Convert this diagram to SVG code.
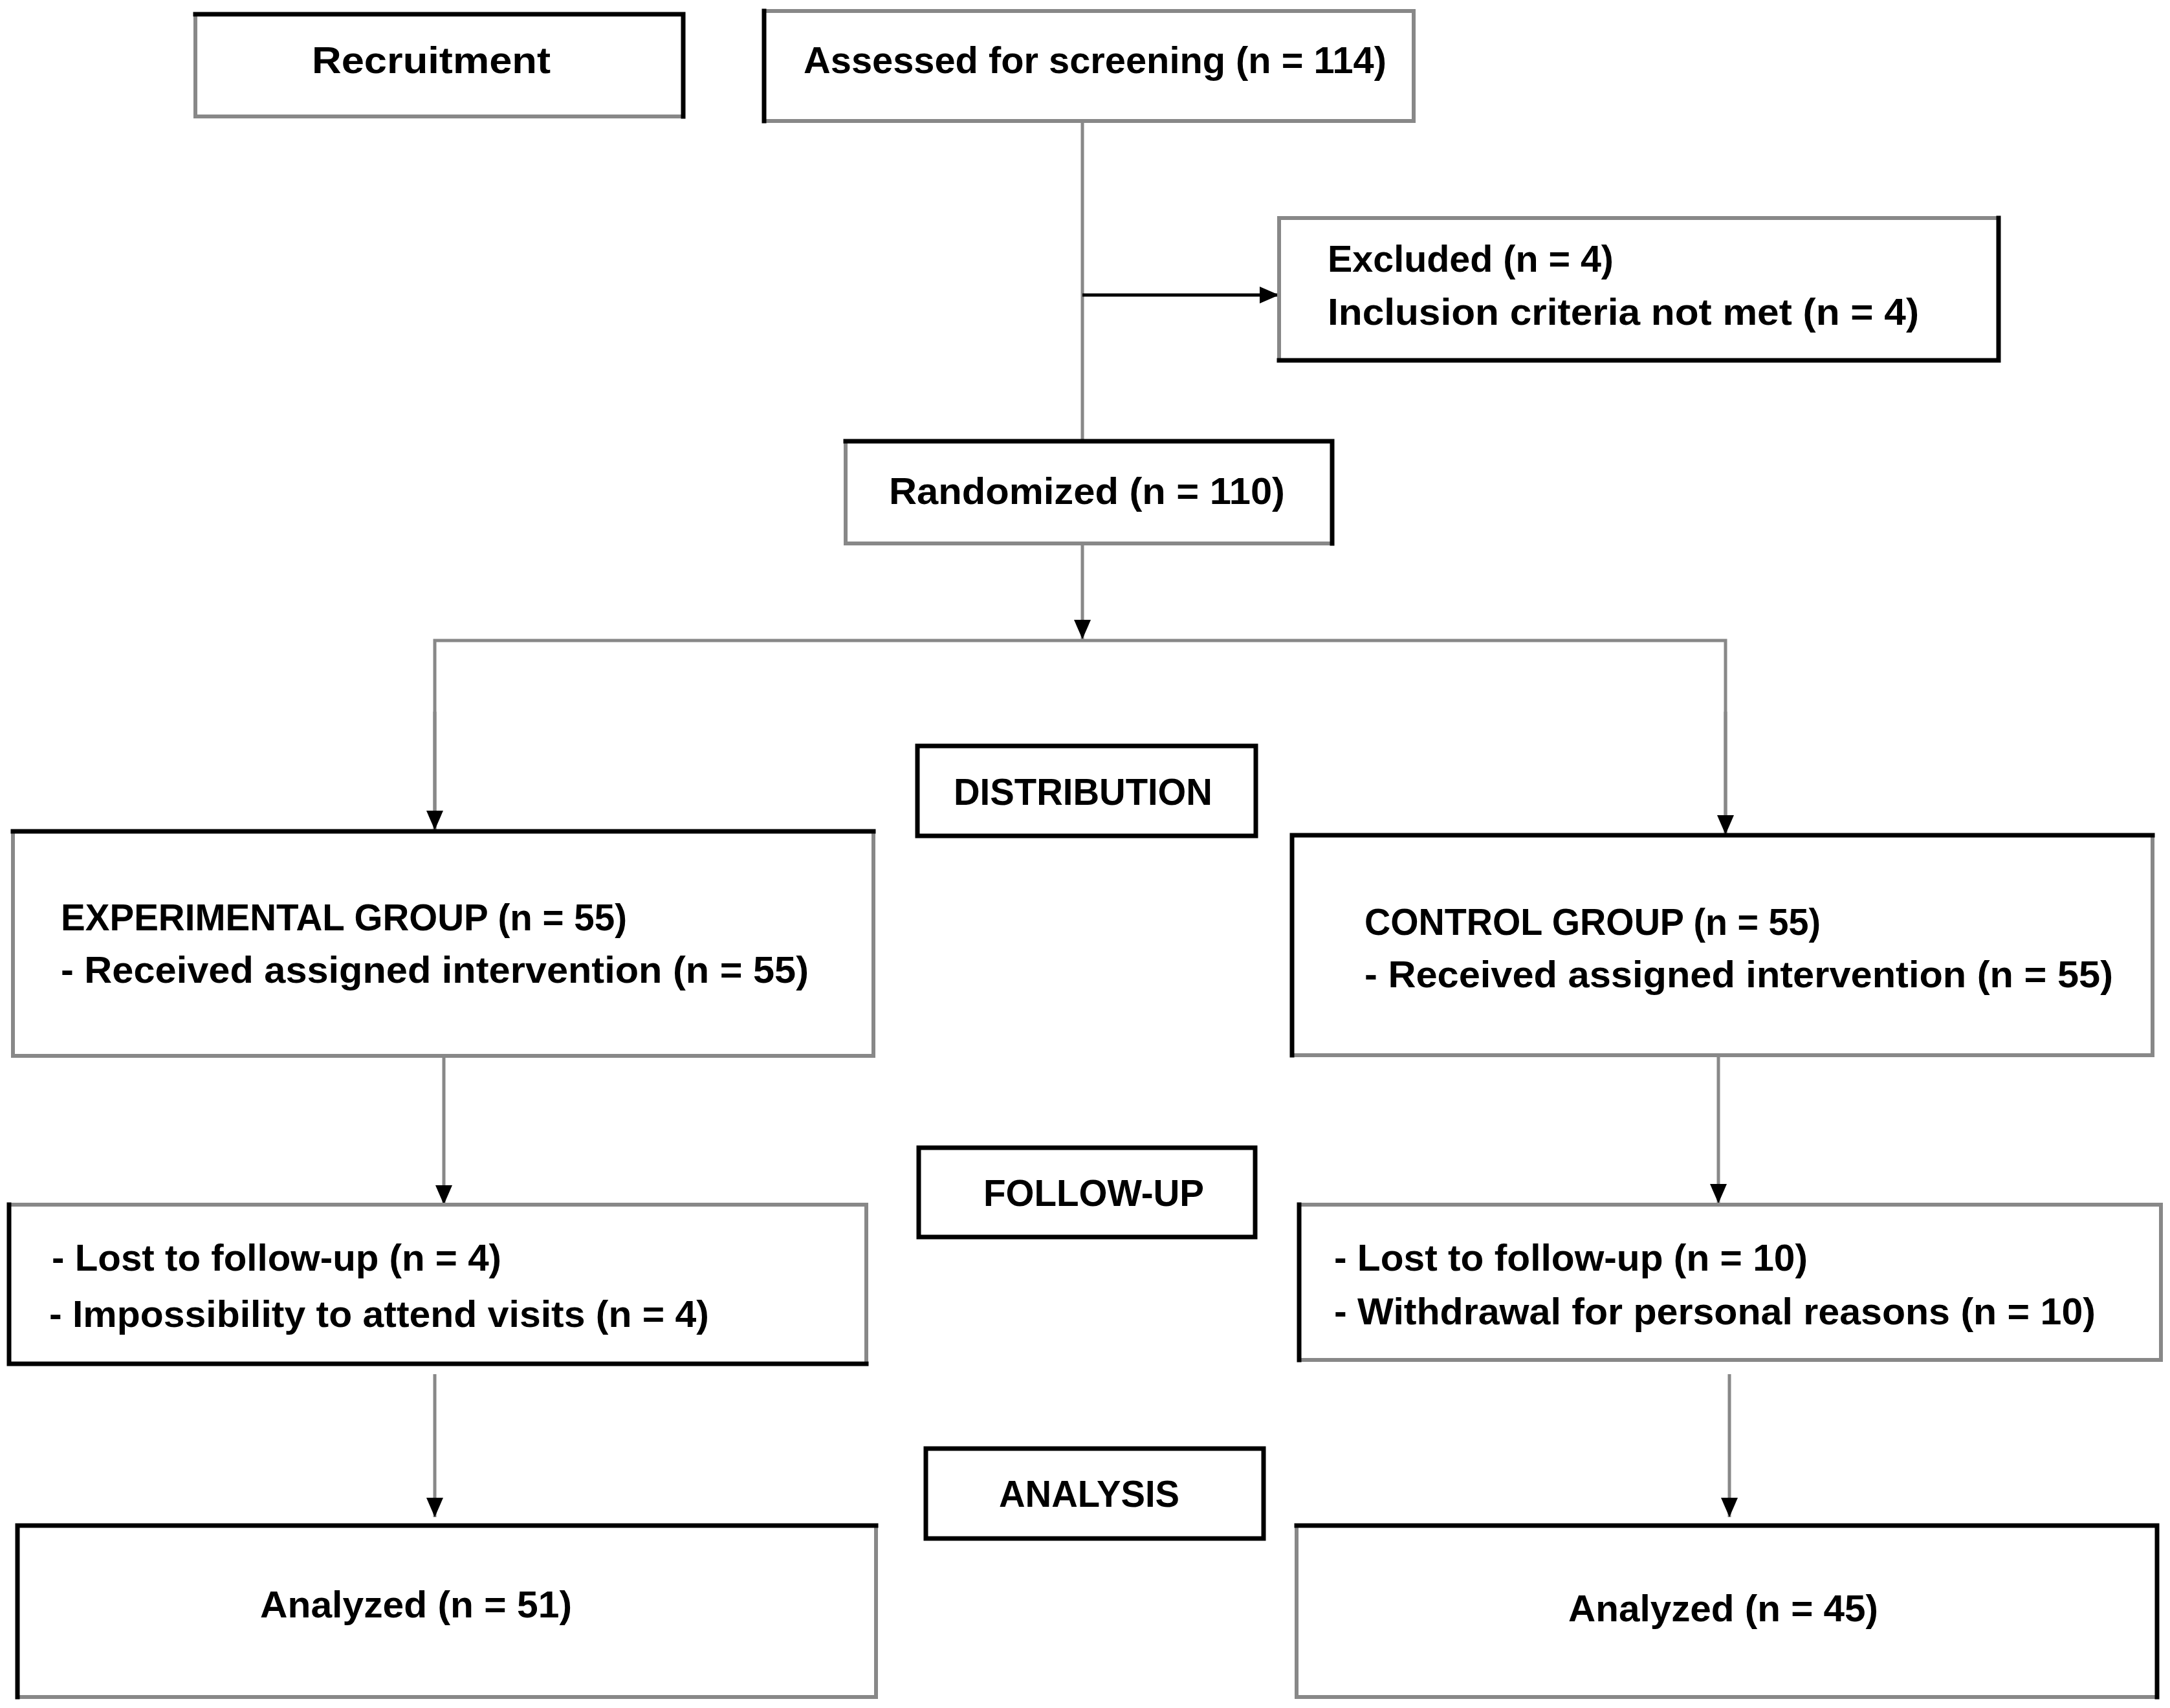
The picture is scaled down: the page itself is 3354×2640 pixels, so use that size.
<svg xmlns="http://www.w3.org/2000/svg" width="3354" height="2640" viewBox="0 0 3354 2640">
<style>
.bx{fill:#fff;stroke:#888;stroke-width:6}
.bk{fill:none;stroke:#000;stroke-width:7;stroke-linecap:square}
.t{font-family:"Liberation Sans",Arial,sans-serif;font-weight:bold;font-size:58px;fill:#000}
.c{fill:none;stroke:#888;stroke-width:5}
.cb{fill:none;stroke:#000;stroke-width:5}
</style>
<defs>
<marker id="ah" markerUnits="userSpaceOnUse" markerWidth="30" markerHeight="26" refX="30" refY="13" orient="auto">
<path d="M0,0 L30,13 L0,26 z" fill="#000"/>
</marker>
</defs>
<rect width="3354" height="2640" fill="#fff"/>
<g id="connectors">
<line class="c" x1="1673" y1="187" x2="1673" y2="682"/>
<line class="cb" x1="1673" y1="456" x2="1977" y2="456" marker-end="url(#ah)"/>
<line class="c" x1="1673" y1="840" x2="1673" y2="988" marker-end="url(#ah)"/>
<polyline class="c" points="672,1283 672,990 2667,990 2667,1290"/>
<line class="c" x1="672" y1="1100" x2="672" y2="1283" marker-end="url(#ah)"/>
<line class="c" x1="2667" y1="1100" x2="2667" y2="1290" marker-end="url(#ah)"/>
<line class="c" x1="686" y1="1632" x2="686" y2="1862" marker-end="url(#ah)"/>
<line class="c" x1="2656" y1="1631" x2="2656" y2="1860" marker-end="url(#ah)"/>
<line class="c" x1="672" y1="2124" x2="672" y2="2345" marker-end="url(#ah)"/>
<line class="c" x1="2673" y1="2124" x2="2673" y2="2345" marker-end="url(#ah)"/>
</g>
<g id="recruitment">
<rect class="bx" x="302" y="22" width="754" height="158"/>
<path class="bk" d="M302,22 H1056 V180"/>
<text class="t" x="482" y="113" textLength="369" lengthAdjust="spacingAndGlyphs">Recruitment</text>
</g>
<g id="assessed">
<rect class="bx" x="1181" y="17" width="1004" height="170"/>
<path class="bk" d="M1181,17 V187"/>
<text class="t" x="1242" y="113" textLength="901" lengthAdjust="spacingAndGlyphs">Assessed for screening (n = 114)</text>
</g>
<g id="excluded">
<rect class="bx" x="1977" y="337" width="1112" height="220"/>
<path class="bk" d="M3089,337 V557 H1977"/>
<text class="t" x="2052" y="420" textLength="442" lengthAdjust="spacingAndGlyphs">Excluded (n = 4)</text>
<text class="t" x="2052" y="502" textLength="914" lengthAdjust="spacingAndGlyphs">Inclusion criteria not met (n = 4)</text>
</g>
<g id="randomized">
<rect class="bx" x="1307" y="682" width="752" height="158"/>
<path class="bk" d="M1307,682 H2059 V840"/>
<text class="t" x="1374" y="779" textLength="612" lengthAdjust="spacingAndGlyphs">Randomized (n = 110)</text>
</g>
<g id="distribution">
<rect class="bx" x="1418" y="1153" width="523" height="139" style="stroke:#000;stroke-width:7"/>
<text class="t" x="1474" y="1244" textLength="400" lengthAdjust="spacingAndGlyphs">DISTRIBUTION</text>
</g>
<g id="experimental">
<rect class="bx" x="20" y="1285" width="1330" height="347"/>
<path class="bk" d="M20,1285 H1350"/>
<text class="t" x="94" y="1438" textLength="875" lengthAdjust="spacingAndGlyphs">EXPERIMENTAL GROUP (n = 55)</text>
<text class="t" x="94" y="1519" textLength="1156" lengthAdjust="spacingAndGlyphs">- Received assigned intervention (n = 55)</text>
</g>
<g id="control">
<rect class="bx" x="1997" y="1291" width="1330" height="340"/>
<path class="bk" d="M1997,1631 V1291 H3327"/>
<text class="t" x="2109" y="1445" textLength="705" lengthAdjust="spacingAndGlyphs">CONTROL GROUP (n = 55)</text>
<text class="t" x="2109" y="1526" textLength="1157" lengthAdjust="spacingAndGlyphs">- Received assigned intervention (n = 55)</text>
</g>
<g id="followup-label">
<rect class="bx" x="1420" y="1774" width="520" height="138" style="stroke:#000;stroke-width:7"/>
<text class="t" x="1520" y="1864" textLength="341" lengthAdjust="spacingAndGlyphs">FOLLOW-UP</text>
</g>
<g id="followup-exp">
<rect class="bx" x="14" y="1862" width="1325" height="246"/>
<path class="bk" d="M14,1862 V2108 H1339"/>
<text class="t" x="80" y="1964" textLength="695" lengthAdjust="spacingAndGlyphs">- Lost to follow-up (n = 4)</text>
<text class="t" x="76" y="2051" textLength="1020" lengthAdjust="spacingAndGlyphs">- Impossibility to attend visits (n = 4)</text>
</g>
<g id="followup-ctrl">
<rect class="bx" x="2008" y="1862" width="1332" height="240"/>
<path class="bk" d="M2008,1862 V2102"/>
<text class="t" x="2062" y="1964" textLength="732" lengthAdjust="spacingAndGlyphs">- Lost to follow-up (n = 10)</text>
<text class="t" x="2062" y="2047" textLength="1177" lengthAdjust="spacingAndGlyphs">- Withdrawal for personal reasons (n = 10)</text>
</g>
<g id="analysis-label">
<rect class="bx" x="1431" y="2239" width="522" height="139" style="stroke:#000;stroke-width:7"/>
<text class="t" x="1544" y="2329" textLength="279" lengthAdjust="spacingAndGlyphs">ANALYSIS</text>
</g>
<g id="analyzed-exp">
<rect class="bx" x="27" y="2358" width="1327" height="265"/>
<path class="bk" d="M27,2623 V2358 H1354"/>
<text class="t" x="402" y="2500" textLength="482" lengthAdjust="spacingAndGlyphs">Analyzed (n = 51)</text>
</g>
<g id="analyzed-ctrl">
<rect class="bx" x="2004" y="2358" width="1330" height="265"/>
<path class="bk" d="M2004,2358 H3334 V2623"/>
<text class="t" x="2424" y="2506" textLength="479" lengthAdjust="spacingAndGlyphs">Analyzed (n = 45)</text>
</g>
</svg>
